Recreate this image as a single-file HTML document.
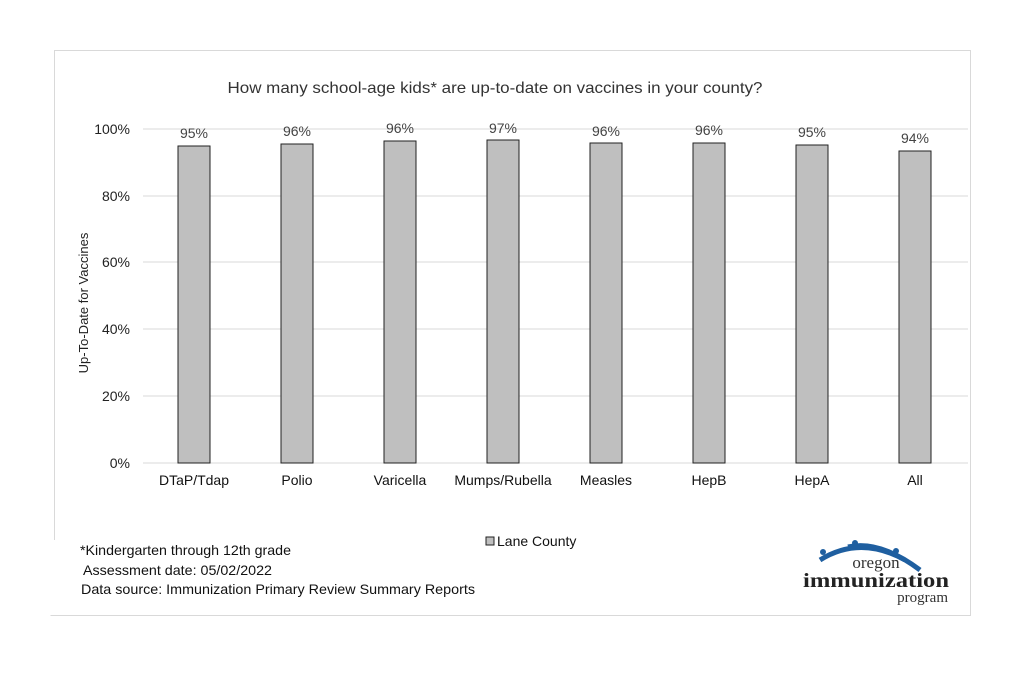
<!DOCTYPE html><html><head><style>body{margin:0;background:#fff}svg{display:block;font-family:"Liberation Sans",Arial,sans-serif}</style></head><body>
<svg width="1016" height="677" viewBox="0 0 1016 677">
<rect x="0" y="0" width="1016" height="677" fill="#fff"/>
<path d="M54.5 540V50.5H970.5V615.5H50.5" fill="none" stroke="#d9d9d9"/>
<text x="495" y="93" font-size="16" text-anchor="middle" fill="#333" textLength="535" lengthAdjust="spacingAndGlyphs">How many school-age kids* are up-to-date on vaccines in your county?</text>
<g stroke="#d9d9d9">
<line x1="143" x2="968" y1="129" y2="129"/><line x1="143" x2="968" y1="196" y2="196"/><line x1="143" x2="968" y1="262" y2="262"/><line x1="143" x2="968" y1="329" y2="329"/><line x1="143" x2="968" y1="396" y2="396"/><line x1="143" x2="968" y1="463" y2="463"/></g>
<g font-size="14" fill="#222" text-anchor="end">
<text x="130" y="134">100%</text><text x="130" y="201">80%</text><text x="130" y="267">60%</text><text x="130" y="334">40%</text><text x="130" y="401">20%</text><text x="130" y="468">0%</text></g>
<text transform="translate(88 303) rotate(-90)" font-size="13" text-anchor="middle" fill="#222">Up-To-Date for Vaccines</text>
<g fill="#bfbfbf" stroke="#222" stroke-width="1">
<rect x="178" y="146" width="32" height="317"/><rect x="281" y="144" width="32" height="319"/><rect x="384" y="141" width="32" height="322"/><rect x="487" y="140" width="32" height="323"/><rect x="590" y="143" width="32" height="320"/><rect x="693" y="143" width="32" height="320"/><rect x="796" y="145" width="32" height="318"/><rect x="899" y="151" width="32" height="312"/></g>
<g font-size="14" fill="#444" text-anchor="middle">
<text x="194" y="138">95%</text><text x="297" y="136">96%</text><text x="400" y="133">96%</text><text x="503" y="133">97%</text><text x="606" y="136">96%</text><text x="709" y="135">96%</text><text x="812" y="137">95%</text><text x="915" y="143">94%</text></g>
<g font-size="14" fill="#111" text-anchor="middle">
<text x="194" y="485">DTaP/Tdap</text><text x="297" y="485">Polio</text><text x="400" y="485">Varicella</text><text x="503" y="485">Mumps/Rubella</text><text x="606" y="485">Measles</text><text x="709" y="485">HepB</text><text x="812" y="485">HepA</text><text x="915" y="485">All</text></g>
<rect x="486" y="537" width="8" height="8" fill="#bfbfbf" stroke="#222"/>
<text x="497" y="546" font-size="14" fill="#111">Lane County</text>
<g font-size="14" fill="#111"><text x="80" y="555" textLength="211" lengthAdjust="spacingAndGlyphs">*Kindergarten through 12th grade</text><text x="83" y="575" textLength="189" lengthAdjust="spacingAndGlyphs">Assessment date: 05/02/2022</text><text x="81" y="594" textLength="394" lengthAdjust="spacingAndGlyphs">Data source: Immunization Primary Review Summary Reports</text></g>
<path d="M820 560Q860 535 905 560" fill="none" stroke="#1f5fa0" stroke-width="5"/>
<path d="M848 547Q880 540 920 570" fill="none" stroke="#1f5fa0" stroke-width="5"/>
<circle cx="823" cy="552" r="3" fill="#1f5fa0"/><circle cx="855" cy="543" r="3" fill="#1f5fa0"/><circle cx="896" cy="551" r="3" fill="#1f5fa0"/>
<text x="876" y="568" font-family="Liberation Serif,serif" font-size="17" fill="#333" text-anchor="middle">oregon</text>
<text x="876" y="587" font-family="Liberation Serif,serif" font-size="20" font-weight="bold" fill="#222" text-anchor="middle" textLength="146" lengthAdjust="spacingAndGlyphs">immunization</text>
<text x="948" y="602" font-family="Liberation Serif,serif" font-size="15" fill="#333" text-anchor="end">program</text>
</svg></body></html>
